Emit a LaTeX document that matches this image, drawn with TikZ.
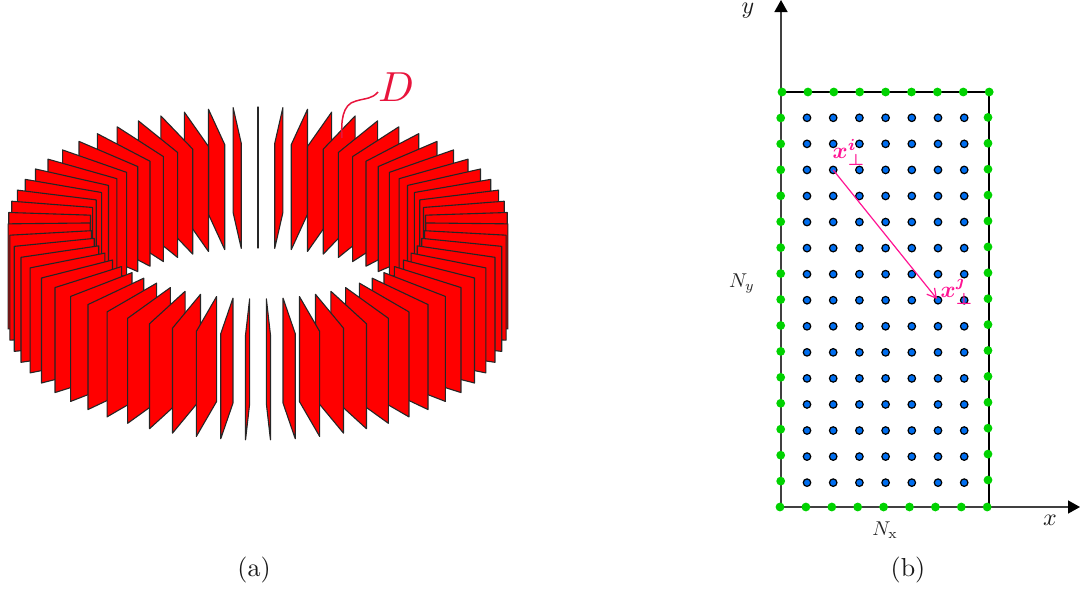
\documentclass[tikz,border=0pt]{standalone}
\usepackage{amsmath,bm}
\usetikzlibrary{arrows.meta}
\definecolor{plate}{RGB}{255,0,0}
\definecolor{crim}{RGB}{232,20,60}
\definecolor{pinkx}{RGB}{255,20,147}
\definecolor{bluedot}{RGB}{0,110,240}
\definecolor{greendot}{RGB}{0,210,0}
\tikzset{
  plateface/.style={fill=plate,draw=black!85,line width=1.1pt,line join=round},
  label/.style={scale=2.4,inner sep=0pt,text=black!90},
  caplabel/.style={scale=2.6,inner sep=0pt,text=black!90},
  bluept/.style={circle,fill=bluedot,draw=black,line width=1.2pt,minimum size=7.5pt,inner sep=0pt},
  greenpt/.style={circle,fill=greendot,minimum size=8.8pt,inner sep=0pt},
  axisline/.style={draw=black!75,line width=1.5pt,-{Triangle[length=12pt,width=13pt,fill=black,color=black]}},
  frameline/.style={draw=black,line width=1.1pt},
  pinklabel/.style={scale=2.3,inner sep=0pt,text=pinkx},
}
\newcommand{\drawplate}[1]{%
  \pgfmathsetmacro{\co}{cos(#1)}%
  \pgfmathsetmacro{\si}{sin(#1)}%
  \pgfmathsetmacro{\xo}{258+250*\co}%
  \pgfmathsetmacro{\xi}{258+168*\co}%
  \pgfmathsetmacro{\yo}{221-114*\si}%
  \pgfmathsetmacro{\yi}{221-78*\si}%
  \path[plateface] (\xo,\yo) -- (\xi,\yi) -- (\xi,\yi+105) -- (\xo,\yo+105) -- cycle;%
}
\begin{document}
\begin{tikzpicture}[x=1pt,y=-1pt]
\useasboundingbox (0,0) rectangle (1080,590);
% torus of plates, drawn from back to front
\drawplate{90}
\foreach \k in {1,...,31}{
  \pgfmathsetmacro{\ta}{90+\k*360/63}
  \pgfmathsetmacro{\tb}{90-\k*360/63}
  \drawplate{\ta}
  \drawplate{\tb}
}
\node[scale=4.2,inner sep=0pt,text=crim] (D) at (396,87) {$D$};
\coordinate (Dfoot) at (342,138);
\draw[crim,line width=1.5pt] (Dfoot) .. controls (341,122) and (342,104) .. (356,101)
   .. controls (366,98) and (372,99) .. (378,92);
\node[caplabel] (capa) at (254,570) {(a)};
% panel b
\coordinate (org) at (781,507);
\coordinate (ytip) at (781,0);
\coordinate (xtip) at (1080,507);
\coordinate (tr) at (989,92);
\draw[axisline] (org) -- (ytip);
\draw[axisline] (org) -- (xtip);
\draw[frameline] (org |- tr) -- (tr) -- (tr |- org);
\foreach \i in {0,...,8}{
  \node[greenpt] (gt\i) at ({782+\i*25.9},92) {};
  \node[greenpt] (gb\i) at ({780+\i*25.9},507) {};
}
\foreach \j in {1,...,15}{
  \node[greenpt] (gl\j) at (780.7,{92+\j*25.94}) {};
  \node[greenpt] (gr\j) at (988,{92+\j*25.9-0.5}) {};
}
\foreach \r in {1,...,15}{
  \foreach \c in {1,...,7}{
    \node[bluept] (b-\r-\c) at ({807+(\c-1)*26.2},{117.8+(\r-1)*26.06}) {};
  }
}
\draw[pinkx,line width=1.2pt,shorten >=1.5pt,-{Straight Barb[length=9pt,width=10pt]}] (b-3-2.center) -- (b-8-6.center);
\node[pinklabel] (xi) at (849,152) {$\bm{x^i_\perp}$};
\node[pinklabel] (xj) at (957,292) {$\bm{x^\jmath_\perp}$};
\node[label] (ly) at (748,10.5) {$y$};
\node[label] (lx) at (1050,520) {$x$};
\node[scale=2,inner sep=0pt,text=black!85] (ny) at (742,284) {$N_y$};
\node[scale=2,inner sep=0pt,text=black!85] (nx) at (885,530) {$N_{\mathrm{x}}$};
\node[caplabel] (capb) at (908,570) {(b)};
\end{tikzpicture}
\end{document}
